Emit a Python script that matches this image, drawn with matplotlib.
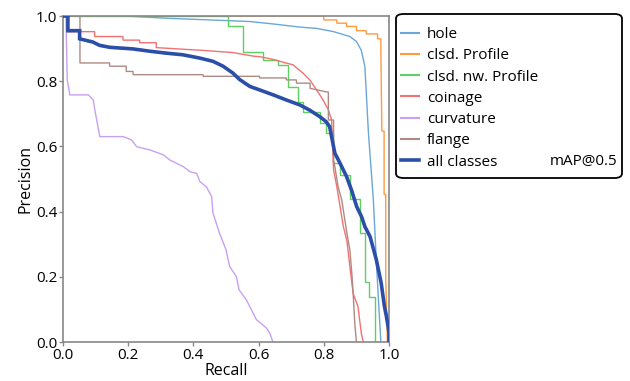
import matplotlib
matplotlib.use("Agg")
import matplotlib.pyplot as plt
from matplotlib.lines import Line2D
from matplotlib.patches import FancyBboxPatch

plt.rcParams['font.family'] = ['Open Sans', 'DejaVu Sans']

# ---------------- data ----------------
class_names = ["hole", "clsd. Profile", "clsd. nw. Profile", "coinage",
               "curvature", "flange", "all classes"]

hole_r = [0.0, 0.19, 0.32, 0.45, 0.574, 0.65, 0.726, 0.778, 0.83, 0.88,
          0.90, 0.915, 0.926, 0.937, 0.952, 0.962, 0.975]
hole_p = [1.0, 1.0, 0.993, 0.988, 0.983, 0.975, 0.966, 0.962, 0.952, 0.937,
          0.922, 0.895, 0.845, 0.64, 0.436, 0.231, 0.0]

clsd_r = [0.0, 0.80, 0.80, 0.84, 0.84, 0.87, 0.87, 0.90, 0.90, 0.93, 0.93,
          0.965, 0.965, 0.975, 0.975, 0.978, 0.985, 0.985, 0.99, 0.99, 0.995]
clsd_p = [1.0, 1.0, 0.988, 0.988, 0.978, 0.978, 0.968, 0.968, 0.955, 0.955,
          0.945, 0.945, 0.93, 0.93, 0.905, 0.647, 0.647, 0.453, 0.453, 0.197, 0.0]

nw_r = [0.0, 0.506, 0.506, 0.552, 0.552, 0.614, 0.614, 0.66, 0.66, 0.691,
        0.691, 0.722, 0.722, 0.737, 0.737, 0.788, 0.788, 0.808, 0.808, 0.828,
        0.828, 0.85, 0.85, 0.88, 0.88, 0.91, 0.91, 0.925, 0.925, 0.94, 0.94,
        0.956, 0.956]
nw_p = [1.0, 1.0, 0.969, 0.969, 0.891, 0.891, 0.865, 0.865, 0.85, 0.85,
        0.783, 0.783, 0.737, 0.737, 0.706, 0.706, 0.671, 0.671, 0.642, 0.642,
        0.548, 0.548, 0.512, 0.512, 0.44, 0.44, 0.333, 0.333, 0.185, 0.185,
        0.139, 0.139, 0.0]

coin_r = [0.0, 0.012, 0.012, 0.097, 0.097, 0.184, 0.184, 0.235, 0.235, 0.286,
          0.286, 0.37, 0.42, 0.52, 0.583, 0.604, 0.644, 0.706, 0.737, 0.757,
          0.778, 0.798, 0.814, 0.824, 0.826, 0.83, 0.84, 0.85, 0.86, 0.871,
          0.88, 0.89, 0.905, 0.915, 0.921]
coin_p = [1.0, 1.0, 0.952, 0.952, 0.937, 0.937, 0.926, 0.926, 0.918, 0.918,
          0.903, 0.898, 0.895, 0.888, 0.877, 0.875, 0.867, 0.85, 0.824, 0.804,
          0.773, 0.742, 0.712, 0.681, 0.62, 0.528, 0.476, 0.415, 0.354, 0.31,
          0.231, 0.149, 0.108, 0.027, 0.0]

curv_r = [0.0, 0.009, 0.013, 0.021, 0.078, 0.093, 0.098, 0.113, 0.185, 0.21,
          0.226, 0.267, 0.308, 0.328, 0.369, 0.39, 0.41, 0.42, 0.44, 0.456,
          0.46, 0.48, 0.5, 0.511, 0.532, 0.54, 0.562, 0.593, 0.624, 0.634, 0.644]
curv_p = [1.0, 1.0, 0.804, 0.758, 0.758, 0.742, 0.71, 0.63, 0.63, 0.62,
          0.599, 0.589, 0.574, 0.558, 0.538, 0.522, 0.517, 0.492, 0.476, 0.446,
          0.396, 0.334, 0.283, 0.232, 0.2, 0.16, 0.13, 0.069, 0.043, 0.028, 0.0]

fl_r = [0.0, 0.052, 0.052, 0.143, 0.143, 0.194, 0.194, 0.215, 0.215, 0.43,
        0.43, 0.603, 0.603, 0.685, 0.685, 0.716, 0.716, 0.758, 0.758, 0.809,
        0.814, 0.814, 0.83, 0.83, 0.834, 0.844, 0.855, 0.871, 0.88, 0.886,
        0.89, 0.895, 0.9]
fl_p = [1.0, 1.0, 0.856, 0.856, 0.846, 0.846, 0.83, 0.83, 0.82, 0.82,
        0.815, 0.815, 0.81, 0.81, 0.804, 0.804, 0.794, 0.794, 0.778, 0.767,
        0.767, 0.681, 0.681, 0.558, 0.537, 0.476, 0.436, 0.333, 0.282, 0.21,
        0.15, 0.057, 0.0]

all_r = [0.0, 0.015, 0.015, 0.051, 0.051, 0.092, 0.112, 0.143, 0.215, 0.266,
         0.317, 0.368, 0.419, 0.46, 0.491, 0.521, 0.542, 0.573, 0.604, 0.645,
         0.686, 0.727, 0.757, 0.788, 0.808, 0.818, 0.824, 0.834, 0.85, 0.87,
         0.885, 0.901, 0.916, 0.926, 0.942, 0.961, 0.976, 0.986, 0.992, 1.0, 1.0]
all_p = [1.0, 1.0, 0.955, 0.955, 0.93, 0.92, 0.91, 0.904, 0.899, 0.892,
         0.886, 0.881, 0.871, 0.861, 0.846, 0.825, 0.805, 0.784, 0.773, 0.758,
         0.742, 0.727, 0.711, 0.691, 0.675, 0.66, 0.629, 0.579, 0.548, 0.507,
         0.466, 0.415, 0.384, 0.354, 0.323, 0.253, 0.181, 0.109, 0.079, 0.03, 0.0]

map_label = "mAP@0.5"
tick_vals = [0.0, 0.2, 0.4, 0.6, 0.8, 1.0]

# ---------------- styling ----------------
colors = ["#6aa6d8", "#ff9a40", "#5fd05f", "#f07272", "#c8a0f2", "#ae8a82", "#2b4ea8"]
series = [(hole_r, hole_p), (clsd_r, clsd_p), (nw_r, nw_p), (coin_r, coin_p),
          (curv_r, curv_p), (fl_r, fl_p), (all_r, all_p)]

W, H = 630, 381
fig = plt.figure(figsize=(W / 100, H / 100), dpi=100)
ax = fig.add_axes([63 / W, 1 - 342 / H, 326 / W, 326 / H])

for i, (r, p) in enumerate(series):
    lw = 2.6 if i == 6 else 1.0
    ax.plot(r, p, color=colors[i], lw=lw, zorder=3 if i == 6 else 2,
            solid_joinstyle='miter')

ax.set_xlim(0, 1)
ax.set_ylim(0, 1)
ax.set_xticks(tick_vals)
ax.set_yticks(tick_vals)
ax.set_xticklabels([f"{v:.1f}" for v in tick_vals])
ax.set_yticklabels([f"{v:.1f}" for v in tick_vals])
ax.tick_params(labelsize=11, length=3, width=1, color="#888888", pad=1)
for s in ax.spines.values():
    s.set_color("#888888")
    s.set_linewidth(1.2)
ax.set_xlabel("Recall", fontsize=11.5, labelpad=0)
ax.set_ylabel("Precision", fontsize=11.5, labelpad=2)

# legend frame (drawn as a rounded box so that the mAP text sits inside it)
bx0, by0, bx1, by1 = 396, 14, 622, 178
box = FancyBboxPatch((bx0 / W, 1 - by1 / H), (bx1 - bx0) / W, (by1 - by0) / H,
                     boxstyle="round,pad=0,rounding_size=0.012",
                     transform=fig.transFigure, facecolor="white",
                     edgecolor="black", linewidth=1.3, zorder=1)
fig.patches.append(box)

handles = [Line2D([], [], color=colors[i], lw=(2.6 if i == 6 else 1.5))
           for i in range(7)]
leg = fig.legend(handles, class_names, loc="upper left",
                 bbox_to_anchor=(401 / W, 1 - 27 / H), fontsize=11,
                 frameon=False, handlelength=1.2,
                 handletextpad=0.5, labelspacing=0.41, borderpad=0,
                 borderaxespad=0)

fig.text(617 / W, 1 - 161 / H, map_label, fontsize=11, ha="right", va="center")

fig.savefig("out.png", dpi=100)
